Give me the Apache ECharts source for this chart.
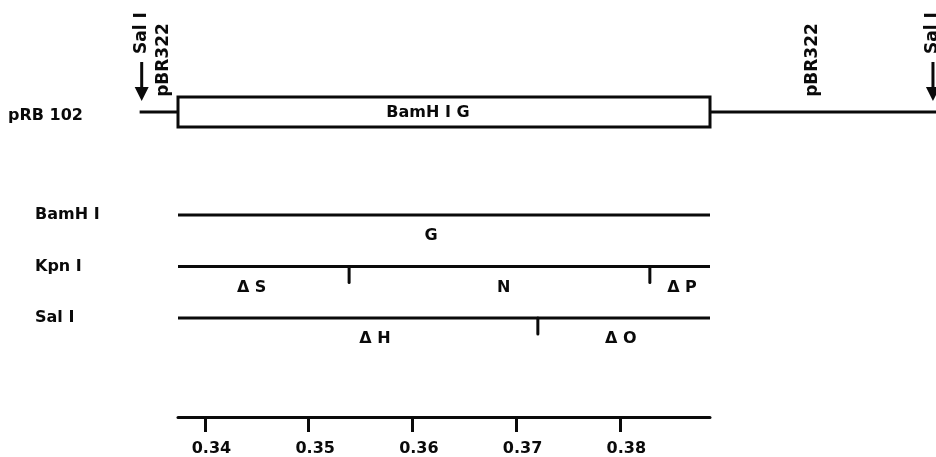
<!DOCTYPE html>
<html>
<head>
<meta charset="utf-8">
<script src="https://cdn.jsdelivr.net/npm/echarts@6/dist/echarts.min.js"></script>
<style>
html,body{margin:0;padding:0;background:#fff;}
#chart{width:936px;height:457px;}
</style>
</head>
<body>
<div id="chart"></div>
<script>
// ---- data (map units) ----
const fragStart = 0.3374;           // left end of BamH I G fragment
const fragEnd = 0.3887;             // right end of BamH I G fragment
const vectorStart = 0.3337;         // pRB102 vector line start
const vectorEnd = 0.4105;           // pRB102 vector line end
const insertLabel = 'BamH I G';
const insertLabelPos = 0.3615;

const rowNames = ['pRB 102', 'BamH I', 'Kpn I', 'Sal I'];
const rowLevels = [0, 2, 3, 4];

const cutEnzymes = ['Kpn I', 'Kpn I', 'Sal I'];
const cutPositions = [0.3539, 0.3829, 0.3721];

const fragmentNames = ['G', 'Δ S', 'N', 'Δ P', 'Δ H', 'Δ O'];
const fragmentRows = ['BamH I', 'Kpn I', 'Kpn I', 'Kpn I', 'Sal I', 'Sal I'];
const fragmentCenters = [0.3618, 0.3445, 0.3688, 0.3860, 0.3564, 0.3801];

const siteNames = ['Sal I', 'pBR322', 'pBR322', 'Sal I'];
const sitePositions = [0.3339, 0.3360, 0.3986, 0.4102];
const siteArrows = [true, false, false, true];

const tickValues = [0.34, 0.35, 0.36, 0.37, 0.38];

// ---- styles ----
const INK = '#0a0a0a';
const FONT = 'bold 16px "DejaVu Sans"';
const VFONT = 'bold 17px "DejaVu Sans"';
const LW = 3;

function levelOf(name){ return rowLevels[rowNames.indexOf(name)]; }

const chart = echarts.init(document.getElementById('chart'), null, {renderer:'canvas'});

const option = {
  backgroundColor: '#fff',
  animation: false,
  grid: {left: 178, right: 226, top: 0, bottom: 40},
  xAxis: {
    type: 'value', min: fragStart, max: fragEnd,
    splitLine: {show: false},
    axisLine: {show: true, onZero: false, lineStyle: {color: INK, width: LW}},
    axisTick: {show: true, customValues: tickValues, length: 15, lineStyle: {color: INK, width: LW}},
    axisLabel: {
      show: true, customValues: tickValues, margin: 24,
      formatter: v => v.toFixed(2),
      color: INK, fontFamily: 'DejaVu Sans', fontWeight: 'bold', fontSize: 16,
      padding: [0, 0, 0, 13]
    }
  },
  yAxis: {
    type: 'value', inverse: true, min: -2.1748, max: 5.9223,
    splitLine: {show: false},
    axisLine: {show: false}, axisTick: {show: false},
    axisLabel: {
      show: true, customValues: rowLevels, align: 'left', margin: 170,
      formatter: v => {
        const n = rowNames[rowLevels.indexOf(v)];
        return v === 0 ? '{a|' + n + '}' : '{b|' + n + '}';
      },
      rich: {
        a: {color: INK, fontFamily: 'DejaVu Sans', fontWeight: 'bold', fontSize: 16, padding: [8, 0, 0, 0]},
        b: {color: INK, fontFamily: 'DejaVu Sans', fontWeight: 'bold', fontSize: 16, padding: [0, 0, 0, 27]}
      }
    }
  },
  series: [
    { // vector line
      type: 'custom', name: 'vector', silent: true, clip: false,
      data: [[vectorStart, vectorEnd, levelOf('pRB 102')]],
      renderItem: (p, api) => {
        const a = api.coord([api.value(0), api.value(2)]);
        const b = api.coord([api.value(1), api.value(2)]);
        return {type: 'line', shape: {x1: a[0], y1: a[1], x2: b[0], y2: b[1]}, style: {stroke: INK, lineWidth: LW}};
      }
    },
    { // insert box
      type: 'custom', name: 'insert', silent: true, clip: false,
      data: [[fragStart, fragEnd, levelOf('pRB 102'), insertLabelPos]],
      renderItem: (p, api) => {
        const a = api.coord([api.value(0), api.value(2)]);
        const b = api.coord([api.value(1), api.value(2)]);
        const t = api.coord([api.value(3), api.value(2)]);
        return {type: 'group', children: [
          {type: 'rect', shape: {x: a[0], y: a[1] - 15, width: b[0] - a[0], height: 30},
           style: {fill: '#fff', stroke: INK, lineWidth: LW}},
          {type: 'text', x: t[0], y: t[1] + 1,
           style: {text: insertLabel, font: FONT, fill: INK, align: 'center', verticalAlign: 'middle'}}
        ]};
      }
    },
    { // map rows
      type: 'custom', name: 'maps', silent: true, clip: false,
      data: rowLevels.slice(1).map(l => [fragStart, fragEnd, l]),
      renderItem: (p, api) => {
        const a = api.coord([api.value(0), api.value(2)]);
        const b = api.coord([api.value(1), api.value(2)]);
        return {type: 'line', shape: {x1: a[0], y1: a[1], x2: b[0], y2: b[1]}, style: {stroke: INK, lineWidth: LW}};
      }
    },
    { // cut sites
      type: 'custom', name: 'cuts', silent: true, clip: false,
      data: cutPositions.map((x, i) => [x, levelOf(cutEnzymes[i])]),
      renderItem: (p, api) => {
        const a = api.coord([api.value(0), api.value(1)]);
        return {type: 'line', shape: {x1: a[0], y1: a[1], x2: a[0], y2: a[1] + 16}, style: {stroke: INK, lineWidth: LW, lineCap: 'round'}};
      }
    },
    { // fragment labels
      type: 'custom', name: 'fragments', silent: true, clip: false,
      data: fragmentCenters.map((x, i) => [x, levelOf(fragmentRows[i])]),
      renderItem: (p, api) => {
        const a = api.coord([api.value(0), api.value(1)]);
        return {type: 'text', x: a[0], y: a[1] + 21,
          style: {text: fragmentNames[p.dataIndex], font: FONT, fill: INK, align: 'center', verticalAlign: 'middle'}};
      }
    },
    { // site labels above vector
      type: 'custom', name: 'sites', silent: true, clip: false,
      data: sitePositions.map(x => [x, levelOf('pRB 102')]),
      renderItem: (p, api) => {
        const a = api.coord([api.value(0), api.value(1)]);
        const i = p.dataIndex;
        const x = a[0], y = a[1];
        const children = [];
        if (siteArrows[i]) {
          children.push({type: 'line', shape: {x1: x, y1: y - 50, x2: x, y2: y - 22}, style: {stroke: INK, lineWidth: LW}});
          children.push({type: 'polygon', shape: {points: [[x - 7, y - 25], [x + 7, y - 25], [x, y - 11]]}, style: {fill: INK}});
          children.push({type: 'text', x: x, y: y - 79, rotation: Math.PI / 2,
            style: {text: siteNames[i], font: VFONT, fill: INK, align: 'center', verticalAlign: 'middle'}});
        } else {
          children.push({type: 'text', x: x, y: y - 52, rotation: Math.PI / 2,
            style: {text: siteNames[i], font: VFONT, fill: INK, align: 'center', verticalAlign: 'middle'}});
        }
        return {type: 'group', children};
      }
    }
  ]
};
chart.setOption(option);
</script>
</body>
</html>
